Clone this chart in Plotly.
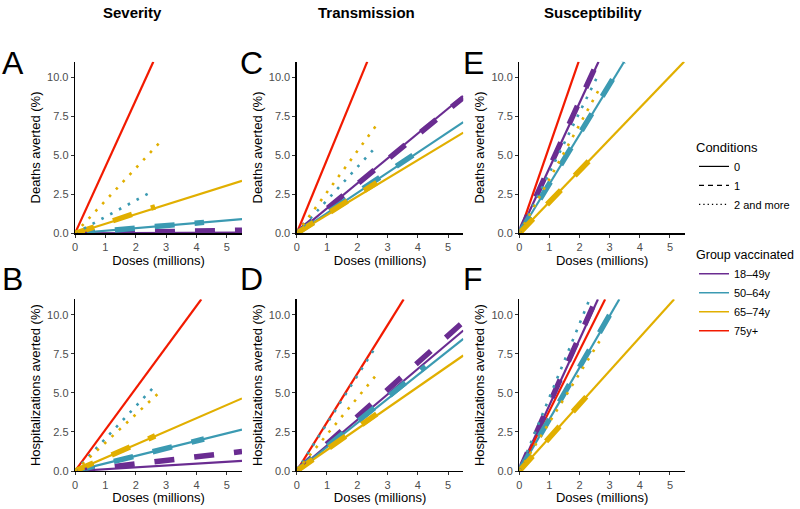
import plotly.graph_objects as go

# ---------------- data ----------------
groups = ["18–49y", "50–64y", "65–74y", "75y+"]
conditions = ["0", "1", "2 and more"]
columns = ["Severity", "Transmission", "Susceptibility"]
panel_letters = ["A", "C", "E", "B", "D", "F"]
row_titles = ["Deaths averted (%)", "Hospitalizations averted (%)"]
x_ticks = [0, 1, 2, 3, 4, 5]
y_ticks = [0, 2.5, 5, 7.5, 10]

# each series: (group index, condition index); lines run from (0,0) to end point
series_group = [0, 0, 0, 1, 1, 1, 2, 2, 2, 3]
series_cond = [0, 1, 2, 0, 1, 2, 0, 1, 2, 0]

# end points: doses (millions), % averted
A_dose = [5.5, 5.5, 0.4, 5.5, 4.25, 2.42, 5.5, 2.64, 2.78, 2.58]
A_avert = [0.05, 0.2, 0.02, 0.91, 0.7, 2.55, 3.37, 1.7, 5.8, 11.0]
B_dose = [5.5, 5.5, 0.4, 5.5, 4.25, 2.56, 5.5, 2.64, 2.73, 4.16]
B_avert = [0.65, 1.25, 0.15, 2.65, 2.05, 5.3, 4.65, 2.25, 4.95, 11.0]
C_dose = [5.5, 5.5, 0.33, 5.5, 4.25, 2.53, 5.5, 2.64, 2.62, 2.33]
C_avert = [8.8, 8.7, 0.9, 7.13, 5.55, 5.36, 6.45, 3.25, 6.9, 11.0]
D_dose = [5.5, 5.5, 0.3, 5.5, 4.25, 2.55, 5.5, 2.64, 2.62, 3.53]
D_avert = [9.0, 9.55, 0.6, 8.47, 6.7, 7.77, 7.4, 3.65, 6.13, 11.0]
E_dose = [2.63, 2.6, 0.3, 3.48, 3.45, 2.58, 5.47, 2.64, 2.64, 1.97]
E_avert = [11.0, 11.0, 1.2, 11.0, 11.0, 10.0, 11.0, 5.3, 9.2, 11.0]
F_dose = [2.61, 2.55, 0.3, 3.32, 3.3, 2.33, 5.14, 2.64, 2.69, 2.85]
F_avert = [11.0, 11.0, 1.3, 11.0, 11.0, 11.0, 11.0, 5.65, 8.4, 11.0]

# ---------------- styling ----------------
W, H = 800, 509
FONT = "Liberation Sans, Arial, sans-serif"
group_colors = ["#6A2C91", "#3B9AB2", "#E1AF00", "#F21A00"]
cond_width = [2.2, 5.5, 2.6]
cond_dash = ["solid", "20px,20px", "2.6px,7.4px"]


def px_x(p):
    return p / W


def px_y(p):
    return 1 - p / H


col_px = [(75, 242), (296.7, 463.3), (519.3, 685)]
row_px = [(61.7, 233.3), (299.3, 471)]

panels = [
    (0, 0, A_dose, A_avert), (1, 0, B_dose, B_avert),
    (0, 1, C_dose, C_avert), (1, 1, D_dose, D_avert),
    (0, 2, E_dose, E_avert), (1, 2, F_dose, F_avert),
]

fig = go.Figure()
layout = dict(
    width=W, height=H, margin=dict(l=0, r=0, t=0, b=0, pad=0),
    paper_bgcolor="white", plot_bgcolor="white",
    font=dict(family=FONT, color="black"),
    template="none", showlegend=True,
)


def axis_names(r, c):
    k = r * 3 + c + 1
    return ("x" if k == 1 else f"x{k}"), ("y" if k == 1 else f"y{k}")


for r in range(2):
    for c in range(3):
        xn, yn = axis_names(r, c)
        xk = "xaxis" + xn[1:]
        yk = "yaxis" + yn[1:]
        x0, x1 = col_px[c]
        y0, y1 = row_px[r]
        common = dict(showgrid=False, zeroline=False, showline=True, linecolor="black",
                      linewidth=1.3, ticks="outside", ticklen=3, tickwidth=1,
                      tickcolor="#333333", tickfont=dict(size=11, color="#4D4D4D"),
                      automargin=False)
        layout[xk] = dict(common, domain=[px_x(x0), px_x(x1)], range=[0, 5.5],
                          tickvals=x_ticks, anchor=yn,
                          title=dict(text="Doses (millions)", font=dict(size=13), standoff=1))
        layout[yk] = dict(common, domain=[px_y(y1), px_y(y0)], range=[0, 11],
                          tickvals=y_ticks, tickformat=".1f", anchor=xn,
                          title=dict(text=row_titles[r], font=dict(size=13), standoff=3))

# data lines: solid first, then dashed, then dotted
for cond_i in range(3):
    for r, c, dose, avert in panels:
        xn, yn = axis_names(r, c)
        for s in range(len(series_group)):
            if series_cond[s] != cond_i:
                continue
            g = series_group[s]
            fig.add_trace(go.Scatter(
                x=[0, dose[s]], y=[0, avert[s]], mode="lines",
                line=dict(color=group_colors[g], width=cond_width[cond_i], dash=cond_dash[cond_i]),
                xaxis=xn, yaxis=yn, showlegend=False, hoverinfo="skip"))

# legend entries
legend_dash = ["solid", "5px,4px", "1.3px,3px"]
for i, name in enumerate(conditions):
    fig.add_trace(go.Scatter(x=[None], y=[None], mode="lines", name=name,
                             line=dict(color="black", width=1.2, dash=legend_dash[i]),
                             legend="legend"))
for i, name in enumerate(groups):
    fig.add_trace(go.Scatter(x=[None], y=[None], mode="lines", name=name,
                             line=dict(color=group_colors[i], width=1.5),
                             legend="legend2"))

leg_common = dict(xanchor="left", yanchor="top", bgcolor="rgba(0,0,0,0)",
                  font=dict(size=11, color="black"), itemwidth=30,
                  tracegroupgap=0)
layout["legend"] = dict(leg_common, x=px_x(694), y=px_y(135),
                        title=dict(text="Conditions", font=dict(size=13)))
layout["legend2"] = dict(leg_common, x=px_x(694), y=px_y(243),
                         title=dict(text="Group vaccinated", font=dict(size=12.5)))

annotations = []
col_title_x = [132, 366, 593]
for c, t in enumerate(columns):
    annotations.append(dict(text=f"<b>{t}</b>", x=px_x(col_title_x[c]), y=px_y(12),
                            xref="paper", yref="paper", showarrow=False,
                            xanchor="center", yanchor="middle",
                            font=dict(size=15, color="black")))
letter_x = [0, 238, 461]
letter_y = [63, 279]
for i, L in enumerate(panel_letters):
    r, c = i // 3, i % 3
    annotations.append(dict(text=L, x=px_x(letter_x[c]), y=px_y(letter_y[r]),
                            xref="paper", yref="paper", showarrow=False,
                            xanchor="left", yanchor="middle",
                            font=dict(size=32, color="black")))
layout["annotations"] = annotations

fig.update_layout(**layout)
fig.write_html("out.html",
               config={"displayModeBar": False, "staticPlot": True},
               post_script="document.body.style.margin='0px';"
                           "document.body.style.overflow='hidden';")
